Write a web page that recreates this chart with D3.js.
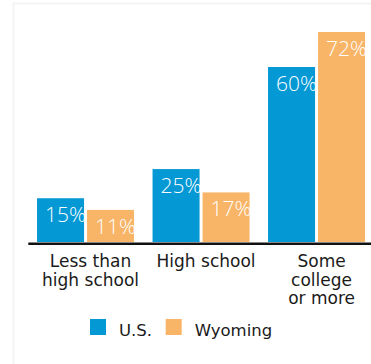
<!DOCTYPE html>
<html>
<head>
<meta charset="utf-8">
<script src="https://cdn.jsdelivr.net/npm/d3@7"></script>
<style>
  body { margin: 0; background: #fff; }
  svg { display: block; }
</style>
</head>
<body>
<script>
'use strict';

// data
const categories = [["Less than", "high school"], ["High school"], ["Some", "college", "or more"]];
const series = ["U.S.", "Wyoming"];
const usValues = [15, 25, 60];
const wyValues = [11, 17, 72];
const colors = ["#0498d5", "#f9b567"];

const width = 371, height = 364;

const svg = d3.select("body").append("svg")
    .attr("width", width)
    .attr("height", height);

// faint frame in the top-left like the source
svg.append("path")
    .attr("d", "M13.5,364V3.5H371")
    .attr("fill", "none")
    .attr("stroke", "#f4f4f4")
    .attr("stroke-width", 2);

const catKeys = categories.map((c) => c.join(" "));
const rows = catKeys.map((k, i) => ({key: k, lines: categories[i], vals: [usValues[i], wyValues[i]]}));

const x0 = d3.scaleBand()
    .domain(catKeys)
    .range([27.8, 374.3])
    .paddingInner(0.16)
    .paddingOuter(0.08);

const x1 = d3.scaleBand()
    .domain(series)
    .range([0, x0.bandwidth()])
    .paddingInner(0.06);

const y = d3.scaleLinear()
    .domain([0, 72])
    .range([242, 32]);

// clip labels to their bars
const defs = svg.append("defs");

const groups = svg.selectAll(".group")
    .data(rows)
    .enter().append("g")
      .attr("class", "group")
      .attr("transform", (d) => "translate(" + x0(d.key) + ",0)");

const bars = groups.selectAll(".bar")
    .data((d, gi) => d.vals.map((v, i) => ({s: series[i], v: v, i: i, id: "c" + gi + i})))
    .enter().append("g")
      .attr("class", "bar");

bars.each(function(d) {
  defs.append("clipPath").attr("id", d.id)
    .append("rect")
      .attr("x", x1(d.s))
      .attr("y", y(d.v))
      .attr("width", x1.bandwidth())
      .attr("height", y(0) - y(d.v));
});

bars.append("rect")
    .attr("x", (d) => x1(d.s))
    .attr("y", (d) => y(d.v))
    .attr("width", x1.bandwidth())
    .attr("height", (d) => y(0) - y(d.v))
    .attr("fill", (d) => colors[d.i]);

bars.append("text")
    .attr("x", (d) => x1(d.s) + 8)
    .attr("y", (d) => y(d.v) + 24)
    .attr("fill", "#fff")
    .style("font", "300 21px 'Open Sans', Lato, sans-serif")
    .text((d) => d.v + "%");

// x axis with multi-line labels
const xAxis = d3.axisBottom(x0).tickSize(0).tickSizeOuter(0);
const gx = svg.append("g")
    .attr("transform", "translate(0,243.2)")
    .call(xAxis);

gx.select(".domain")
    .attr("stroke", "#111")
    .attr("stroke-width", 2.5);

gx.selectAll(".tick text").remove();
gx.selectAll(".tick")
    .append("text")
      .attr("fill", "#1a1a1a")
      .attr("text-anchor", "middle")
      .style("font", "17px 'DejaVu Sans', sans-serif")
      .selectAll("tspan")
      .data((d, i) => categories[i])
      .enter().append("tspan")
        .attr("x", 5)
        .attr("y", (d, i) => 24.2 + i * 18.5)
        .text((d) => d);

// legend
const legend = svg.append("g").attr("class", "legend");
const legX = [90, 165.7];
series.forEach((s, i) => {
  legend.append("rect")
      .attr("x", legX[i])
      .attr("y", 319)
      .attr("width", 16)
      .attr("height", 16)
      .attr("fill", colors[i]);
  legend.append("text")
      .attr("x", legX[i] + 29)
      .attr("y", 336)
      .attr("fill", "#1a1a1a")
      .style("font", "16.5px 'DejaVu Sans', sans-serif")
      .text(s);
});
</script>
</body>
</html>
